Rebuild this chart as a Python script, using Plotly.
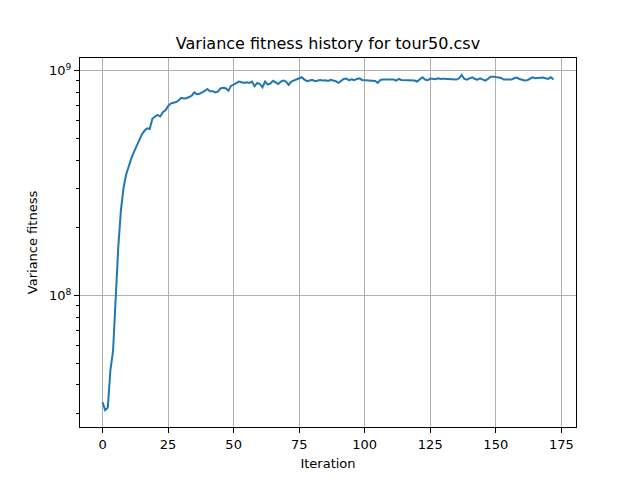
import plotly.graph_objects as go

iterations = list(range(173))
fitness_millions = [
    33.5, 30.9, 31.7, 46.6, 56.5, 98, 164, 239, 300, 345,
    378, 408, 435, 460, 490, 520, 540, 554, 550, 610,
    625, 635, 625, 653, 666, 695, 713, 718, 725, 736,
    757, 751, 753, 763, 774, 800, 785, 788, 798, 812,
    828, 809, 810, 800, 806, 833, 838, 835, 814, 855,
    866, 880, 893, 887, 881, 887, 881, 893, 852, 881,
    872, 843, 893, 867, 875, 900, 887, 872, 893, 903,
    893, 864, 893, 903, 909, 918, 934, 912, 897, 903,
    909, 897, 903, 909, 903, 906, 900, 909, 903, 897,
    882, 903, 918, 921, 906, 915, 906, 918, 924, 909,
    906, 906, 903, 903, 900, 882, 909, 912, 912, 915,
    909, 912, 903, 918, 909, 909, 903, 906, 903, 903,
    894, 918, 934, 912, 906, 921, 918, 915, 924, 918,
    921, 918, 918, 915, 912, 912, 924, 957, 918, 912,
    924, 934, 918, 912, 924, 912, 903, 918, 940, 940,
    937, 937, 928, 912, 912, 918, 912, 924, 931, 918,
    912, 903, 906, 918, 934, 924, 928, 928, 931, 924,
    918, 934, 912,
]
fitness = [v * 1e6 for v in fitness_millions]

x_ticks = [0, 25, 50, 75, 100, 125, 150, 175]
y_ticks = [1e8, 1e9]
y_tick_text = ["10<sup>8</sup>", "10<sup>9</sup>"]
minor_y = [k * 10 ** e for e in (7, 8) for k in range(2, 10)]

fig = go.Figure()
fig.add_trace(go.Scatter(
    x=iterations, y=fitness, mode="lines",
    line=dict(color="#1f77b4", width=2),
    showlegend=False,
))

font_family = "DejaVu Sans"
fig.update_layout(
    width=640, height=480,
    margin=dict(l=72, r=72, t=50, b=61),
    paper_bgcolor="white", plot_bgcolor="white",
    font=dict(family=font_family, size=13, color="black"),
    title=dict(text="Variance fitness history for tour50.csv",
               x=(72 + 496 / 2) / 640, xref="paper", xanchor="center",
               y=1 - 35 / 480, yanchor="middle",
               font=dict(size=16, color="black")),
)
fig.update_xaxes(
    range=[-8.6, 180.6], tickvals=x_ticks,
    showline=True, mirror=True, linecolor="black", linewidth=1,
    ticks="outside", ticklen=5, tickcolor="black",
    showgrid=True, gridcolor="#b0b0b0", gridwidth=1,
    zeroline=False,
    title=dict(text="Iteration", font=dict(size=13), standoff=8),
)
fig.update_yaxes(
    type="log", range=[7.415, 9.056],
    tickvals=y_ticks, ticktext=y_tick_text,
    showline=True, mirror=True, linecolor="black", linewidth=1,
    ticks="outside", ticklen=5, tickcolor="black",
    showgrid=True, gridcolor="#b0b0b0", gridwidth=1,
    zeroline=False,
    minor=dict(tickvals=minor_y, ticks="outside", ticklen=3,
               tickcolor="black", showgrid=False),
    title=dict(text="Variance fitness", font=dict(size=13), standoff=8),
)

fig.write_html("out.html")
